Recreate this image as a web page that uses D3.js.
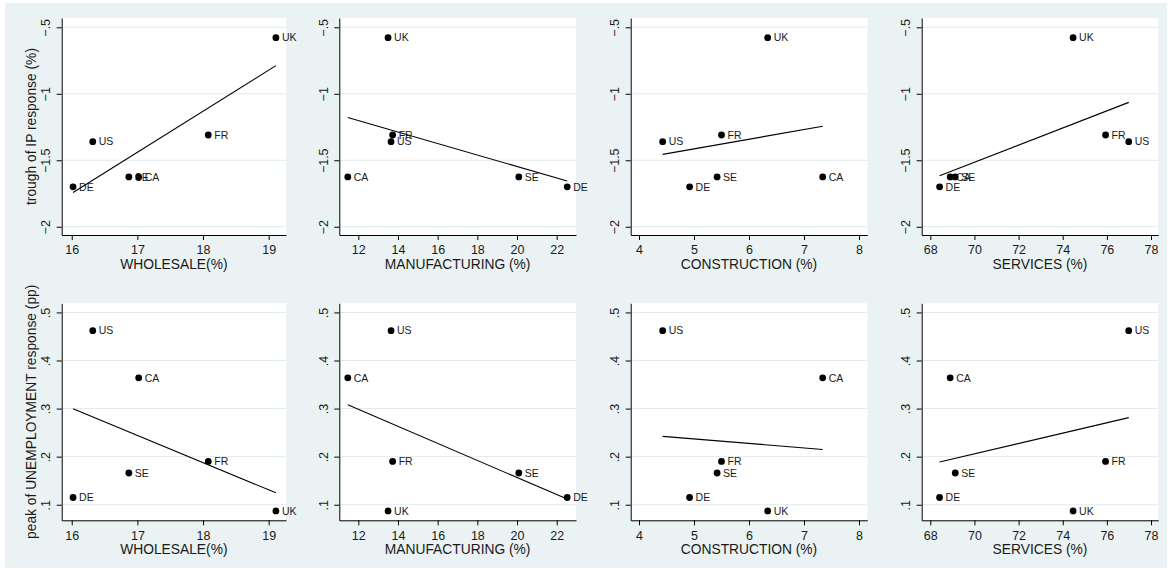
<!DOCTYPE html>
<html>
<head>
<meta charset="utf-8">
<script src="https://cdn.jsdelivr.net/npm/d3@7"></script>
<style>
  body { margin: 0; background: #fff; }
  svg text { font-family: "Liberation Sans", Arial, sans-serif; fill: #1a1a1a; }
</style>
</head>
<body>
<div id="chart"></div>
<script>
/**
 * DATA
 * */
const countries = ["UK", "US", "FR", "SE", "CA", "DE"];
const ipTrough = [-0.578, -1.36, -1.31, -1.625, -1.625, -1.70];
const unempPeak = [0.087, 0.462, 0.190, 0.166, 0.364, 0.115];

const wholesale = [19.11, 16.32, 18.08, 16.87, 17.02, 16.02];
const manufacturing = [13.50, 13.65, 13.73, 20.09, 11.47, 22.53];
const construction = [6.34, 4.43, 5.50, 5.42, 7.34, 4.92];
const services = [74.47, 76.99, 75.94, 69.13, 68.90, 68.42];

const sectorTitles = ["WHOLESALE(%)", "MANUFACTURING (%)", "CONSTRUCTION (%)", "SERVICES (%)"];
const sectorTicks = [[16, 17, 18, 19], [12, 14, 16, 18, 20, 22], [4, 5, 6, 7, 8], [68, 70, 72, 74, 76, 78]];
const sectorRanges = [[15.847, 19.264], [11.042, 22.973], [3.849, 8.151], [67.61, 78.33]];

const responseTitles = ["trough of IP response (%)", "peak of UNEMPLOYMENT response (pp)"];
const ipTicks = [-0.5, -1, -1.5, -2];
const ipTickLabels = ["\u2212.5", "\u22121", "\u22121.5", "\u22122"];
const unempTicks = [0.5, 0.4, 0.3, 0.2, 0.1];
const unempTickLabels = [".5", ".4", ".3", ".2", ".1"];
const ipRange = [-2.062, -0.430];
const unempRange = [0.0676, 0.519];

/**
 * LAYOUT
 * */
const width = 1171,
  height = 571;
const colLeft = [61.7, 339.3, 630.7, 921.7],
  colRight = [286, 576, 867.3, 1158.3],
  rowTop = [18, 303.3],
  plotH = 217;

const bg = "#eaf2f3",
  grid = "#e1eaed";

const svg = d3.select("#chart")
  .append("svg")
  .attr("width", width)
  .attr("height", height);

svg.append("rect").attr("width", width).attr("height", height).attr("fill", "#fff");
svg.append("rect")
  .attr("x", 5).attr("y", 3)
  .attr("width", width - 9).attr("height", height - 6)
  .attr("fill", bg);

const sectors = [wholesale, manufacturing, construction, services];
const rows = [
  { y: ipTrough, ticks: ipTicks, labels: ipTickLabels, range: ipRange, title: responseTitles[0] },
  { y: unempPeak, ticks: unempTicks, labels: unempTickLabels, range: unempRange, title: responseTitles[1] }
];

// simple OLS fit, like Stata's lfit
function lfit(xs, ys) {
  const mx = d3.mean(xs), my = d3.mean(ys);
  const sxy = d3.sum(xs, (x, i) => (x - mx) * (ys[i] - my));
  const sxx = d3.sum(xs, x => (x - mx) * (x - mx));
  const b = sxy / sxx;
  const a = my - b * mx;
  const x0 = d3.min(xs), x1 = d3.max(xs);
  return [[x0, a + b * x0], [x1, a + b * x1]];
}

rows.forEach((row, r) => {
  sectors.forEach((xs, c) => {
    const top = rowTop[r];
    const x = d3.scaleLinear().domain(sectorRanges[c]).range([colLeft[c], colRight[c]]);
    const y = d3.scaleLinear().domain(row.range).range([top + plotH, top]);

    const g = svg.append("g");

    // plot region
    g.append("rect")
      .attr("x", colLeft[c]).attr("y", top)
      .attr("width", colRight[c] - colLeft[c]).attr("height", plotH)
      .attr("fill", "#fff");

    // gridlines
    g.selectAll(".grid")
      .data(row.ticks)
      .join("line")
      .attr("x1", colLeft[c]).attr("x2", colRight[c])
      .attr("y1", d => y(d)).attr("y2", d => y(d))
      .attr("stroke", grid).attr("stroke-width", 1);

    // y axis
    const yAxis = g.append("g")
      .attr("transform", `translate(${colLeft[c]},0)`)
      .call(d3.axisLeft(y).tickValues(row.ticks).tickSize(5).tickSizeOuter(0)
        .tickFormat((d, i) => row.labels[i]));
    yAxis.select(".domain").attr("stroke", "#000");
    yAxis.selectAll(".tick line").attr("stroke", "#000");
    yAxis.selectAll("text")
      .attr("x", 0).attr("dy", 0)
      .attr("transform", "translate(-11.5,0) rotate(-90)")
      .attr("text-anchor", "middle")
      .style("font-size", "12.5px")
      .attr("fill", "#1a1a1a");

    // x axis
    const xAxis = g.append("g")
      .attr("transform", `translate(0,${top + plotH})`)
      .call(d3.axisBottom(x).tickValues(sectorTicks[c]).tickSize(5).tickSizeOuter(0).tickPadding(5.5)
        .tickFormat(d3.format("d")));
    xAxis.select(".domain").attr("stroke", "#000");
    xAxis.selectAll(".tick line").attr("stroke", "#000");
    xAxis.selectAll("text").style("font-size", "12.5px").attr("fill", "#1a1a1a");

    // x title
    g.append("text")
      .attr("x", (colLeft[c] + colRight[c]) / 2)
      .attr("y", top + plotH + 33.5)
      .attr("text-anchor", "middle")
      .style("font-size", "13.8px")
      .text(sectorTitles[c]);

    // y title only in first column
    if (c === 0) {
      g.append("text")
        .attr("transform", `translate(35.5,${top + plotH / 2}) rotate(-90)`)
        .attr("text-anchor", "middle")
        .style("font-size", "13.8px")
        .text(row.title);
    }

    // fitted line
    const fit = lfit(xs, row.y);
    g.append("path")
      .attr("d", d3.line().x(d => x(d[0])).y(d => y(d[1]))(fit))
      .attr("stroke", "#000").attr("stroke-width", 1.1).attr("fill", "none");

    // points
    const pts = countries.map((name, i) => ({ name, x: xs[i], y: row.y[i] }));
    g.selectAll(".dot")
      .data(pts)
      .join("circle")
      .attr("cx", d => x(d.x)).attr("cy", d => y(d.y))
      .attr("r", 3.4)
      .attr("fill", "#000");

    g.selectAll(".lab")
      .data(pts)
      .join("text")
      .attr("x", d => x(d.x) + 6)
      .attr("y", d => y(d.y))
      .attr("dy", "0.36em")
      .style("font-size", "10.5px")
      .attr("fill", "#222")
      .text(d => d.name);
  });
});
</script>
</body>
</html>
